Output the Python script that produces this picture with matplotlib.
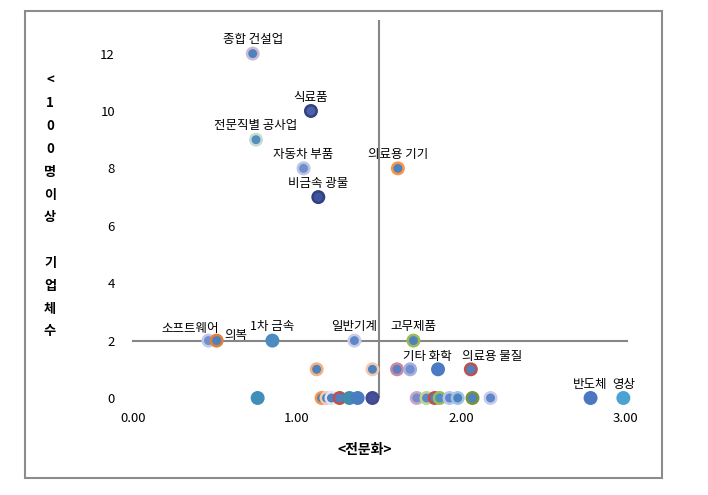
"""Scatter of specialization vs. number of large firms by industry."""

import matplotlib.pyplot as plt
from matplotlib.patches import Rectangle

plt.rcParams["font.family"] = ["Noto Sans CJK KR", "DejaVu Sans"]

# labelled industries
labels = [
    "종합 건설업", "식료품", "전문직별 공사업", "자동차 부품", "비금속 광물",
    "의료용 기기", "소프트웨어", "의복", "1차 금속", "일반기계", "고무제품",
    "기타 화학", "의료용 물질", "반도체", "영상",
]
label_x = [0.73, 1.085, 0.75, 1.04, 1.13, 1.615, 0.46, 0.51, 0.85, 1.35, 1.71,
           1.86, 2.06, 2.79, 2.99]
label_y = [12, 10, 9, 8, 7, 8, 2, 2, 2, 2, 2, 1, 1, 0, 0]
label_face = ["#4F81BD", "#4A62A8", "#4F8EBD", "#6F8FCB", "#3F53A0", "#4F81BD",
              "#6F8FD0", "#4F81BD", "#4A8CC2", "#5F86C8", "#4F81BD", "#4A7BC4",
              "#4F81BD", "#4A78C0", "#4BA3D2"]
label_edge = ["#CDBAD6", "#34427F", "#C6DCD2", "#B8C4E6", "#31407F", "#F79646",
              "#C0C8E8", "#E0803A", "#4A8CC2", "#C8CCE8", "#9BBB59", "#4A7BC4",
              "#C0504D", "#4A78C0", "#4BA3D2"]

# unlabelled industries
other_x = [1.12, 1.46, 1.61, 1.69,
           0.76, 1.15, 1.18, 1.21, 1.26, 1.32, 1.37, 1.46,
           1.73, 1.79, 1.84, 1.87, 1.93, 1.98, 2.07, 2.18]
other_y = [1, 1, 1, 1,
           0, 0, 0, 0, 0, 0, 0, 0,
           0, 0, 0, 0, 0, 0, 0, 0]
other_face = ["#4F81BD", "#4F81BD", "#5F7FC0", "#6F8FD0",
              "#3F8FB8", "#4F81BD", "#4F81BD", "#4F81BD", "#4F81BD", "#3F8CB0", "#4A7CC0", "#46509A",
              "#7A8CC8", "#5F86C8", "#4F81BD", "#4F8EBD", "#5F86C8", "#4F81BD", "#4F81BD", "#5F86C8"]
other_edge = ["#F4B183", "#F2C9B0", "#C88AA0", "#A6B0DC",
              "#3F8FB8", "#F79646", "#F2C9B0", "#E0E4F4", "#C0504D", "#3F8CB0", "#4A7CC0", "#3F4A90",
              "#C8A8C8", "#B8D890", "#C0504D", "#9BBB59", "#B8C4E8", "#9CC3E6", "#77933C", "#C8CCEC"]

# label offsets in points (dx, dy)
label_offset = {
    "소프트웨어": (-13, 9), "의복": (14, 4), "기타 화학": (-8, 9),
    "의료용 물질": (15, 9),
}

y_title = ["<", "1", "0", "0", "명", "이", "상", " ", "기", "업", "체", "수"]

W, H = 708, 495
fig = plt.figure(figsize=(W / 100, H / 100), dpi=100)
ax = fig.add_axes([133 / W, 1 - 398 / H, (625 - 133) / W, (398 - 20) / H])

ax.scatter(other_x, other_y, s=68, c=other_face, edgecolors=other_edge,
           linewidths=1.8, zorder=3, clip_on=False)
ax.scatter(label_x, label_y, s=68, c=label_face, edgecolors=label_edge,
           linewidths=1.8, zorder=4, clip_on=False)

for name, x, y in zip(labels, label_x, label_y):
    dx, dy = label_offset.get(name, (0, 10))
    ax.annotate(name, (x, y), xytext=(dx, dy), textcoords="offset points",
                ha="center", va="center", fontsize=9, color="#000000")

ax.set_xlim(0, 3)
ax.set_ylim(0, 13.17)
ax.axhline(2, xmin=0, xmax=1.004, color="#868686", lw=1.5, zorder=2, clip_on=False)
ax.axvline(1.5, color="#868686", lw=1.5, zorder=2)

for s in ax.spines.values():
    s.set_visible(False)
ax.set_xticks([0, 1, 2, 3])
ax.set_xticklabels(["0.00", "1.00", "2.00", "3.00"])
ax.set_yticks([0, 2, 4, 6, 8, 10, 12])
ax.tick_params(length=0, labelsize=9.5)
ax.tick_params(axis="x", pad=10)
ax.tick_params(axis="y", pad=13)

fig.text(365 / W, 1 - 450 / H, "<전문화>", ha="center", va="center",
         fontsize=10, fontweight="bold")
fig.text(50 / W, 1 - 206 / H, "\n".join(y_title), ha="center", va="center",
         fontsize=9.5, fontweight="bold", linespacing=1.8)

fig.patches.append(Rectangle((25 / W, 1 - 478 / H), (662 - 25) / W, (478 - 11) / H,
                             transform=fig.transFigure, fill=False,
                             edgecolor="#8C8C8C", lw=1.5))

fig.savefig("out.png", dpi=100)
